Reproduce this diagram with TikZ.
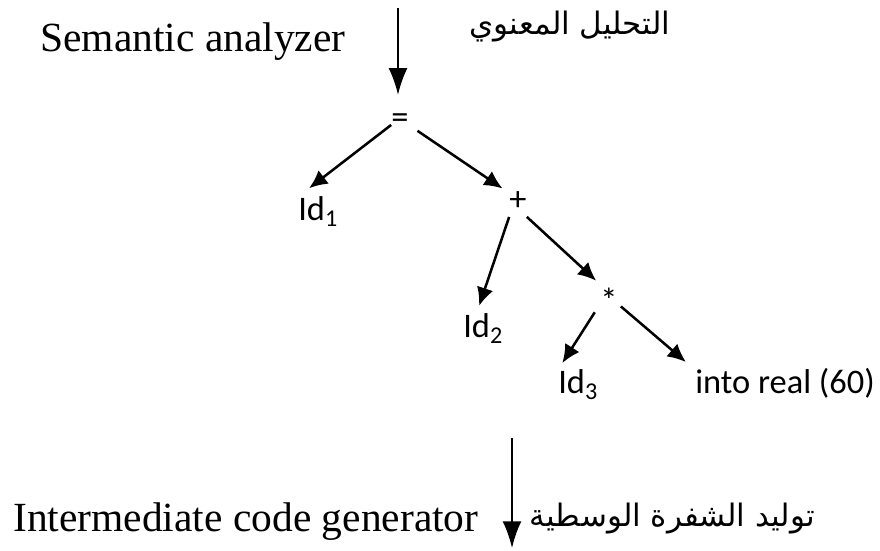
\documentclass[tikz,border=0pt]{standalone}
\usepackage{fontspec}
\setmainfont{Liberation Serif}
\newfontfamily\calibri{Carlito}
\newfontfamily\arabicfont[Script=Arabic]{DejaVu Sans}
\TeXXeTstate=1
\usetikzlibrary{arrows.meta}

\tikzset{
  leaf/.style={font=\calibri\fontsize{24.5}{28}\selectfont, inner sep=0pt,
    text height=17pt, text depth=4pt},
  edge/.style={line width=1.8pt, -{Latex[length=13pt,width=12pt]}},
  flow/.style={line width=1.4pt, -{Latex[length=19pt,width=13.5pt]}},
  phase/.style={font=\fontsize{29.5}{34}\selectfont, inner sep=0pt, anchor=base west},
  arab/.style={font=\arabicfont\fontsize{22}{26}\selectfont, inner sep=0pt, anchor=base},
}

\begin{document}
\begin{tikzpicture}
  \useasboundingbox (0,0) rectangle (22,13.775);
  \coordinate (top) at (9.95,13.575);
  \coordinate (bot1) at (12.8,2.825);
  \coordinate (bot2) at (12.8,0.075);
  % phase names
  \node[phase] (sem) at (1,12.475) {Semantic analyzer};
  \node[arab] (semar) at (14.25,12.9) {\beginR التحليل المعنوي\endR};
  \node[phase] (icg) at (0.325,0.475) {Intermediate code generator};
  \node[arab] (icgar) at (16.81,0.62) {\beginR توليد الشفرة الوسطية\endR};
  % tree
  \node[leaf, anchor=base] (eq) at (10,10.55) {=};
  \node[leaf, anchor=base west] (id1) at (7.45,8.25) {Id\textsubscript{1}};
  \node[leaf, anchor=base] (plus) at (12.95,8.5) {+};
  \node[leaf, anchor=base west] (id2) at (11.575,5.325) {Id\textsubscript{2}};
  \node[leaf, anchor=base] (star) at (15.225,5.95) {*};
  \node[leaf, anchor=base west] (id3) at (13.95,3.925) {Id\textsubscript{3}};
  \node[leaf, anchor=base west] (into) at (17.375,3.925) {into real (60)};
  \draw[flow, shorten >=0.25cm] (top) -- (top |- eq.north);
  \draw[edge, shorten >=0.35cm] (eq.210) -- (id1.north west);
  \draw[edge, shorten <=0.26cm, shorten >=0.2cm] (eq.-30) -- (plus.135);
  \draw[edge, shorten >=0.21cm] (plus.south west) -- (id2.114);
  \draw[edge, shorten >=0.3cm] (plus.south east) -- (star.105);
  \draw[edge, shorten <=0.25cm, shorten >=0.2cm] (star.west) -- (id3.north west);
  \draw[edge, shorten <=0.1cm, shorten >=0.3cm] (star.east) -- (into.north west);
  \draw[flow] (bot1) -- (bot2);
\end{tikzpicture}
\end{document}
